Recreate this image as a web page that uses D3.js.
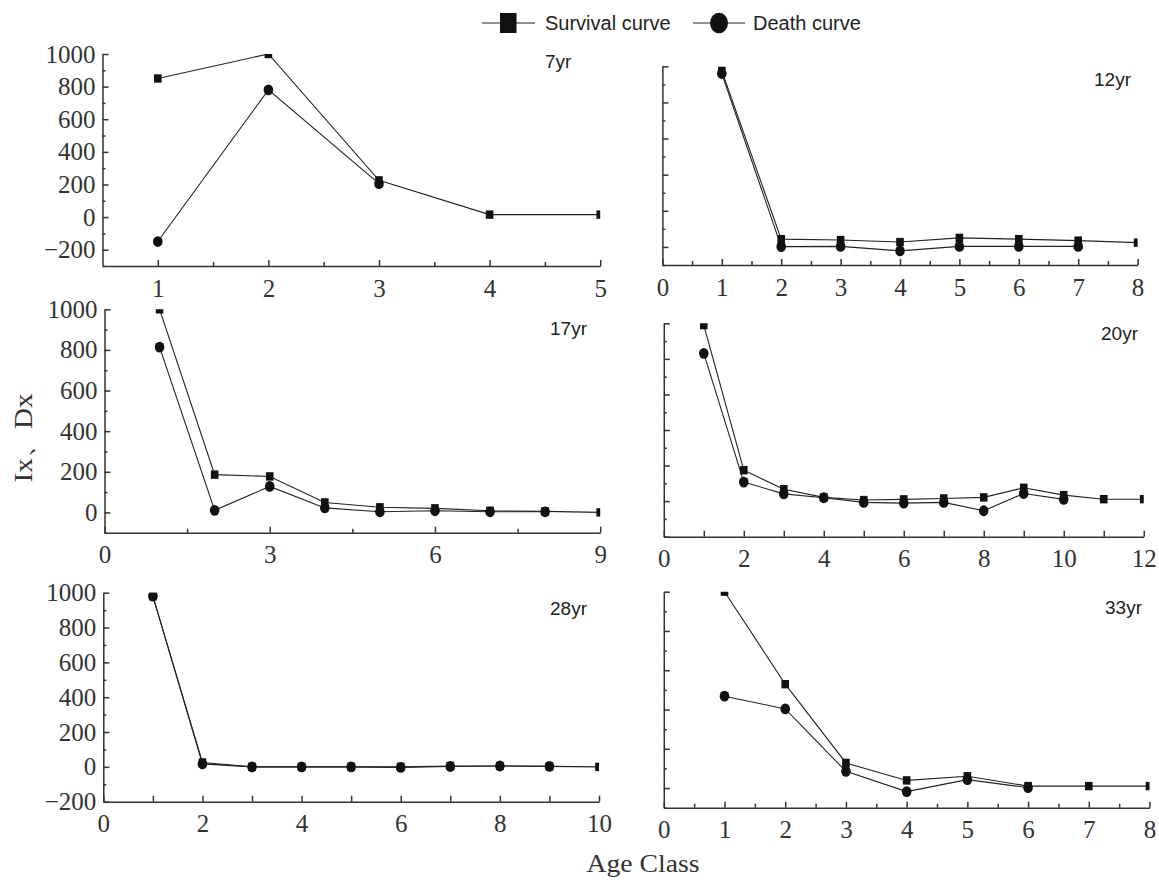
<!DOCTYPE html>
<html>
<head>
<meta charset="utf-8">
<script src="https://cdn.jsdelivr.net/npm/d3@7"></script>
<style>
  body { margin: 0; background: #fff; }
  svg { display: block; }
  .domain, .tick line { stroke: #333; stroke-width: 1.5; }
</style>
</head>
<body>
<svg id="chart" width="1159" height="880"></svg>
<script>
// panel titles
const panelNames = ["7yr", "12yr", "17yr", "20yr", "28yr", "33yr"];

// survival (lx) and death (dx) values per age class
const survival7 = [850, 1000, 225, 15, 15];
const death7 = [-150, 780, 205];

const survival12 = [975, 43, 38, 27, 50, 43, 35, 24];
const death12 = [960, 2, 3, -22, 3, 3, 3];

const survival17 = [1000, 186, 177, 49, 25, 20, 8, 5, 0];
const death17 = [814, 10, 128, 22, 3, 8, 3, 3];

const survival20 = [990, 174, 67, 21, 6, 10, 15, 21, 75, 34, 11, 11];
const death20 = [831, 107, 41, 19, -7, -11, -7, -54, 43, 10];

const survival28 = [980, 25, 0, 0, 0, 0, 5, 5, 3, 0];
const death28 = [980, 17, 0, 0, 0, -3, 2, 5, 3];

const survival33 = [1000, 529, 128, 39, 60, 10, 10, 10];
const death33 = [468, 403, 85, -18, 43, 2];

// axis tick values
const xTicks7 = [1, 2, 3, 4, 5], xMinor7 = [1.5, 2.5, 3.5, 4.5];
const xTicks8 = d3.range(0, 9), xMinor8 = d3.range(0.5, 8, 1);
const xTicks9 = [0, 3, 6, 9], xMinor9 = [1.5, 4.5, 7.5];
const xTicks12 = d3.range(0, 13);
const xTicks10 = d3.range(0, 11);

const serif = "'Liberation Serif', 'Times New Roman', serif";
const sans = "'Liberation Sans', Arial, sans-serif";

const svg = d3.select("#chart");

// layout of each panel (pixel box) + scale domains
const panels = [
  { name: panelNames[0], s: survival7, d: death7, box: [102.5, 600.2, 54, 266], xd: [0.5, 5], yd: [-300, 1000],
    xt: xTicks7, xm: xMinor7, xl: d => d, yLab: true, title: [545, 68] },
  { name: panelNames[1], s: survival12, d: death12, box: [662.4, 1137.6, 66.3, 265], xd: [0, 8], yd: [-100, 1000],
    xt: xTicks8, xm: xMinor8, xl: d => d, yLab: false, title: [1094, 86] },
  { name: panelNames[2], s: survival17, d: death17, box: [104.5, 600.2, 309.3, 532.7], xd: [0, 9], yd: [-100, 1000],
    xt: xTicks9, xm: xMinor9, xl: d => d, yLab: true, title: [550, 335] },
  { name: panelNames[3], s: survival20, d: death20, box: [663.8, 1143.7, 323.3, 536.7], xd: [0, 12], yd: [-200, 1000],
    xt: xTicks12, xm: [], xl: d => d % 2 === 0 ? d : "", yLab: false, title: [1101, 340] },
  { name: panelNames[4], s: survival28, d: death28, box: [103.3, 599, 592.7, 801.7], xd: [0, 10], yd: [-200, 1000],
    xt: xTicks10, xm: [], xl: d => d % 2 === 0 ? d : "", yLab: true, title: [550, 615] },
  { name: panelNames[5], s: survival33, d: death33, box: [663.8, 1149.5, 591.7, 807.7], xd: [0, 8], yd: [-100, 1000],
    xt: xTicks8, xm: xMinor8, xl: d => d, yLab: false, title: [1105, 614] }
];

function styleTicks(a) {
  a.selectAll(".tick text")
    .style("font-family", serif)
    .style("font-size", "25px")
    .attr("fill", "#333");
}

panels.forEach(function (p, i) {
  const [x0, x1, y0, y1] = p.box;
  const x = d3.scaleLinear().domain(p.xd).range([x0, x1]);
  const y = d3.scaleLinear().domain(p.yd).range([y1, y0]);

  const g = svg.append("g").attr("class", "panel");

  // y ticks every 200 (major) and every 100 (minor), inward
  const yMajor = d3.range(Math.ceil(p.yd[0] / 200) * 200, p.yd[1] + 1, 200);
  const yMinor = d3.range(p.yd[0], p.yd[1] + 1, 100).filter(v => v % 200 !== 0);

  g.append("g")
    .attr("transform", `translate(${x0},0)`)
    .call(d3.axisLeft(y).tickValues(yMinor).tickSizeInner(-3).tickSizeOuter(0).tickFormat(""))
    .call(a => a.select(".domain").remove());

  g.append("g")
    .attr("transform", `translate(${x0},0)`)
    .call(d3.axisLeft(y).tickValues(yMajor).tickSizeInner(-6).tickSizeOuter(0).tickPadding(7)
      .tickFormat(p.yLab ? (d => d < 0 ? "\u2212" + (-d) : d) : ""))
    .call(styleTicks);

  // x axis, ticks pointing up
  if (p.xm.length) {
    g.append("g")
      .attr("transform", `translate(0,${y1})`)
      .call(d3.axisBottom(x).tickValues(p.xm).tickSizeInner(-4).tickSizeOuter(0).tickFormat(""))
      .call(a => a.select(".domain").remove());
  }
  g.append("g")
    .attr("transform", `translate(0,${y1})`)
    .call(d3.axisBottom(x).tickValues(p.xt).tickSizeInner(-6).tickSizeOuter(0).tickPadding(13).tickFormat(p.xl))
    .call(styleTicks);

  // clip the marks to the plot box
  g.append("clipPath").attr("id", "clip" + i)
    .append("rect").attr("x", x0).attr("y", y0).attr("width", x1 - x0).attr("height", y1 - y0);
  const plot = g.append("g").attr("clip-path", `url(#clip${i})`);

  const line = d3.line().x((d, k) => x(k + 1)).y(d => y(d));

  plot.append("path").datum(p.s).attr("d", line)
    .attr("fill", "none").attr("stroke", "#222").attr("stroke-width", 1.1);
  plot.append("path").datum(p.d).attr("d", line)
    .attr("fill", "none").attr("stroke", "#222").attr("stroke-width", 1.1);

  plot.selectAll(".sq").data(p.s).enter().append("rect")
    .attr("class", "sq")
    .attr("x", (d, k) => x(k + 1) - 3.8).attr("y", d => y(d) - 4.2)
    .attr("width", 7.6).attr("height", 8.4)
    .attr("fill", "#111");

  plot.selectAll(".dot").data(p.d).enter().append("ellipse")
    .attr("class", "dot")
    .attr("cx", (d, k) => x(k + 1)).attr("cy", d => y(d))
    .attr("rx", 4.8).attr("ry", 5.4)
    .attr("fill", "#111");

  g.append("text")
    .attr("x", p.title[0]).attr("y", p.title[1])
    .style("font-family", sans)
    .style("font-size", "19px")
    .attr("fill", "#222")
    .text(p.name);
});

// legend
const legend = svg.append("g")
  .style("font-family", sans)
  .style("font-size", "20px");

legend.append("line").attr("x1", 482).attr("x2", 535).attr("y1", 23).attr("y2", 23)
  .attr("stroke", "#222").attr("stroke-width", 1.1);
legend.append("rect").attr("x", 500).attr("y", 13).attr("width", 16.5).attr("height", 20).attr("fill", "#111");
legend.append("text").attr("x", 545).attr("y", 30).attr("fill", "#222").text("Survival curve");

legend.append("line").attr("x1", 693).attr("x2", 745).attr("y1", 23).attr("y2", 23)
  .attr("stroke", "#222").attr("stroke-width", 1.1);
legend.append("ellipse").attr("cx", 719).attr("cy", 23).attr("rx", 9).attr("ry", 10.3).attr("fill", "#111");
legend.append("text").attr("x", 753).attr("y", 30).attr("fill", "#222").text("Death curve");

// axis titles
svg.append("text")
  .attr("transform", "translate(32,438) rotate(-90)")
  .attr("text-anchor", "middle")
  .attr("textLength", 89).attr("lengthAdjust", "spacingAndGlyphs")
  .style("font-family", serif)
  .style("font-size", "26px")
  .attr("fill", "#333")
  .text("Ix、Dx");

svg.append("text")
  .attr("x", 643).attr("y", 872)
  .attr("text-anchor", "middle")
  .attr("textLength", 113).attr("lengthAdjust", "spacingAndGlyphs")
  .style("font-family", serif)
  .style("font-size", "26px")
  .attr("fill", "#333")
  .text("Age Class");
</script>
</body>
</html>
